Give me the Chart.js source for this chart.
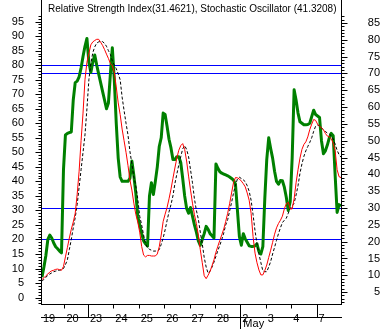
<!DOCTYPE html>
<html><head><meta charset="utf-8">
<script src="https://cdn.jsdelivr.net/npm/chart.js@4.4.0/dist/chart.umd.min.js"></script>
<style>html,body{margin:0;padding:0;background:#fff;}canvas{display:block;}</style>
</head><body>
<canvas id="c" width="383" height="329"></canvas>
<script>
const titleText = 'Relative Strength Index(31.4621), Stochastic Oscillator (41.3208)';
const dayLabels = ['19','20','23','24','25','26','27','28','2','3','4','7'];
const barsPerDay = [12,12,13,13,13,13,13,13,13,13,13,13];
const weekStartDays = ['23','2','7'];
const monthStartDays = ['2'];
const monthNames = ['May'];
const leftTicks = [0,5,10,15,20,25,30,35,40,45,50,55,60,65,70,75,80,85,90,95];
const rightTicks = [5,10,15,20,25,30,35,40,45,50,55,60,65,70,75,80,85];
const leftLevels = [80,20];
const rightLevels = [70,30];

const rsi = [
 7,10.5,14.5,20,21.5,20.5,18.8,17.5,16.8,16,15.4,44,
 56,56.5,56.8,57,68,74,74.5,76,79,83,86.5,89.2,
 81,77.5,81,83.5,80,77,74,71,68,65,67,77,86,
 75,60,48,41.5,40,40,40,40,41,47,42,36,28,
 25,22,19.5,18.5,17.7,35,39.5,35.5,40,45,52,55,63.5,
 63,59,54.5,51.5,47.5,47.5,48.5,48.5,46.5,41,35,30.7,29,
 31,28,25,22.5,19.5,18,20,22,24.5,23.5,22,21.3,20.5,
 46,44.5,43.3,42.8,42.5,42.2,41.9,41.5,41,40.4,39,30,21,
 18,22,20.2,19,17.8,17.6,17.6,17.8,18.5,15.8,15,17.5,34,
 47.5,55,51.3,48,43.5,40,39,40.3,40.2,38,34.5,30,33,
 48,71.5,68,63.5,60.5,60,59.5,59.5,59.6,60,62.3,64.5,63,
 62.5,62,54,49.5,50.5,52.5,55,56.5,55.7,42,29.3,32,31.5
];
const stochK = [
 6.2,6.8,7.5,8.1,8.8,9.2,9.4,9.7,9.8,9.6,9.4,10.7,
 14,17.2,20.5,23.5,26,29,35.5,43.5,54,63.5,75,81,
 84,87,88,88.5,88.9,88.9,87.9,86.8,85.4,83.8,82.3,80.6,79.8,
 77.5,72.5,67,63,58,54,50,45.5,40.5,37,32.5,28.7,26,
 22.5,17.6,14.6,14,14.5,14.5,14.3,14.3,14.3,15,17.5,21.5,26.2,
 28.7,31,34,37.3,41,44.6,48,50.7,52.3,53,51,47,41.8,
 37,32.5,28.5,25.5,21.5,16.5,12,7.5,6.5,7.7,9,11,13,
 15.6,17.7,19.7,21.6,23.6,26.2,29,32.3,36,39.6,41.3,41.2,40.8,
 40.1,39.2,38.1,36,33.5,29,21,15.3,12,9.5,7.8,7.8,9.3,
 11.2,13.8,16.3,19,21.8,24,25.5,26.6,28,30.5,32.3,32.8,30.5,
 30.5,34,39.5,44,48,51,52.7,53.6,55.3,57.8,59.7,61.3,61,
 59.7,59,58.4,57.8,56.5,55.6,55.3,54.7,53,50.5,44,41.6,41.3
];
const stochD = [
 5.6,6.3,7,7.6,8.1,8.5,8.9,9.1,9.3,9.4,9.6,10,
 11.3,13,16.5,20,24,27.5,32,38,44,50,56,65,
 75,80.5,84.3,86.3,87.6,88,88.2,88.1,87.5,86.5,85,83.7,81.5,
 80,78.8,77,75,69,64.4,60,56,50.3,46,41.5,38.5,34,
 28,25,21.5,18.5,17.2,16.6,16.3,16,16,16.1,16.5,18.3,20.5,
 23.3,26.5,29.5,32,35,39.2,42.5,45.7,48.5,51.2,52.3,51,48.5,
 44,39.5,34,30,27,22.5,18.5,13.8,10.5,8.4,9.1,10.5,12.2,
 14.2,16.2,18,20,22.2,25,26.8,29.8,32.7,36,38.8,40.8,41.4,
 41,40.5,39.9,38.5,36.6,33.5,28.5,23,18.5,15,12,9.2,8.9,
 8.9,10.5,12.4,15,17.3,19.7,22,24,25.8,26.6,27.3,29,30.7,
 31.5,32.5,35.3,38.5,42.8,46,48.6,50.5,52,53.4,55,57.2,59,
 59.4,59.1,58.4,57.8,57.2,56.6,56.3,55.7,54.6,52.8,50.7,49.2,48.3
];

// day start positions (bar index boundaries)
const dayStarts = [];
{ let s = 0; barsPerDay.forEach(n => { dayStarts.push(s); s += n; }); }
const totalBars = barsPerDay.reduce((a,b)=>a+b,0);
const toXY = arr => arr.map((v,i)=>({x:i, y:v}));
const FONT = '"Liberation Sans", Arial, sans-serif';

const decor = {
  id: 'decor',
  beforeDatasetsDraw(chart) {
    const {ctx, chartArea:a, scales:{y, y2}} = chart;
    ctx.save();
    ctx.strokeStyle = '#0000ff'; ctx.lineWidth = 1;
    const hl = py => { py = Math.round(py) + 0.5; ctx.beginPath(); ctx.moveTo(a.left, py); ctx.lineTo(a.right, py); ctx.stroke(); };
    leftLevels.forEach(v => hl(y.getPixelForValue(v)));
    rightLevels.forEach(v => hl(y2.getPixelForValue(v)));
    ctx.restore();
  },
  afterDraw(chart) {
    const {ctx, chartArea:a, scales:{x, y, y2}} = chart;
    const H = chart.height;
    ctx.save();
    ctx.strokeStyle = '#000'; ctx.lineWidth = 1;
    const L = Math.round(a.left) + 0.5, R = Math.round(a.right) - 0.5, B = Math.round(a.bottom) + 0.5;
    const seg = (x1,y1,x2,y2_) => { ctx.beginPath(); ctx.moveTo(x1,y1); ctx.lineTo(x2,y2_); ctx.stroke(); };
    // frame
    seg(L, 0, L, B); seg(R, 0, R, B); seg(L-0.5, B, R+0.5, B);
    // y ticks (left)
    for (let v = Math.ceil(y.min); v <= Math.floor(y.max); v++) {
      const py = Math.round(y.getPixelForValue(v)) + 0.5;
      seg(L, py, L - (v % 5 === 0 ? 6 : 3), py);
    }
    for (let v = Math.ceil(y2.min); v <= Math.floor(y2.max); v++) {
      const py = Math.round(y2.getPixelForValue(v)) + 0.5;
      seg(R, py, R + (v % 5 === 0 ? 6 : 3), py);
    }
    // second row line
    const row2 = B + 13;
    seg(L-0.5, row2, R+0.5, row2);
    // day separators
    dayStarts.forEach((s, k) => {
      if (k === 0) return;
      const px = Math.round(x.getPixelForValue(s - 0.5)) + 0.5;
      const lbl = dayLabels[k];
      if (monthStartDays.includes(lbl)) seg(px, B, px, H);
      else if (weekStartDays.includes(lbl)) seg(px, B, px, row2);
      else seg(px, B, px, B + 4);
    });
    // month labels
    ctx.fillStyle = '#000'; ctx.font = '11px ' + FONT; ctx.textBaseline = 'middle'; ctx.textAlign = 'left';
    monthStartDays.forEach((d, i) => {
      const k = dayLabels.indexOf(d);
      const px = x.getPixelForValue(dayStarts[k] - 0.5);
      ctx.fillText(monthNames[i], px + 3, row2 + 6);
    });
    // title
    ctx.font = '10px ' + FONT; ctx.textBaseline = 'alphabetic';
    ctx.fillText(titleText, a.left + 7, 12);
    ctx.restore();
  }
};

new Chart(document.getElementById('c'), {
  type: 'line',
  data: {
    datasets: [
      {label:'%K', data: toXY(stochK), borderColor:'#ff0000', borderWidth:1, pointRadius:0, tension:0, yAxisID:'y'},
      {label:'%D', data: toXY(stochD), borderColor:'#000000', borderWidth:1, borderDash:[3,2], pointRadius:0, tension:0, yAxisID:'y'},
      {label:'RSI', data: toXY(rsi), borderColor:'#008000', borderWidth:3, borderJoinStyle:'round', pointRadius:0, tension:0, yAxisID:'y'}
    ]
  },
  options: {
    responsive: false, animation: false, devicePixelRatio: 1,
    layout: {padding: {left:0, right:3, top:0, bottom:0}},
    plugins: {legend:{display:false}, tooltip:{enabled:false}, title:{display:false}},
    scales: {
      x: {
        type:'linear', position:'bottom', min:-0.5, max: totalBars - 0.5,
        grid:{display:false}, border:{display:false},
        afterBuildTicks: s => { s.ticks = dayStarts.map(v => ({value: v - 0.5})); },
        afterFit: s => { s.height = 25; },
        ticks: {
          autoSkip:false, maxRotation:0, align:'start', labelOffset:2, padding:0,
          color:'#000', font:{family:FONT, size:11},
          callback: (v, i) => dayLabels[i] ?? ''
        }
      },
      y: {
        type:'linear', position:'left', min:-2.22, max:97.06,
        grid:{display:false}, border:{display:false},
        afterBuildTicks: s => { s.ticks = leftTicks.map(v => ({value:v})); },
        afterFit: s => { s.width = 41; },
        ticks: {color:'#000', padding:9, font:{family:FONT, size:11}, autoSkip:false}
      },
      y2: {
        type:'linear', position:'right', min:1.47, max:87.2,
        grid:{display:false}, border:{display:false},
        afterBuildTicks: s => { s.ticks = rightTicks.map(v => ({value:v})); },
        afterFit: s => { s.width = 38; },
        ticks: {color:'#000', padding:9, crossAlign:'far', font:{family:FONT, size:11}, autoSkip:false}
      }
    }
  },
  plugins: [decor]
});
</script>
</body></html>
